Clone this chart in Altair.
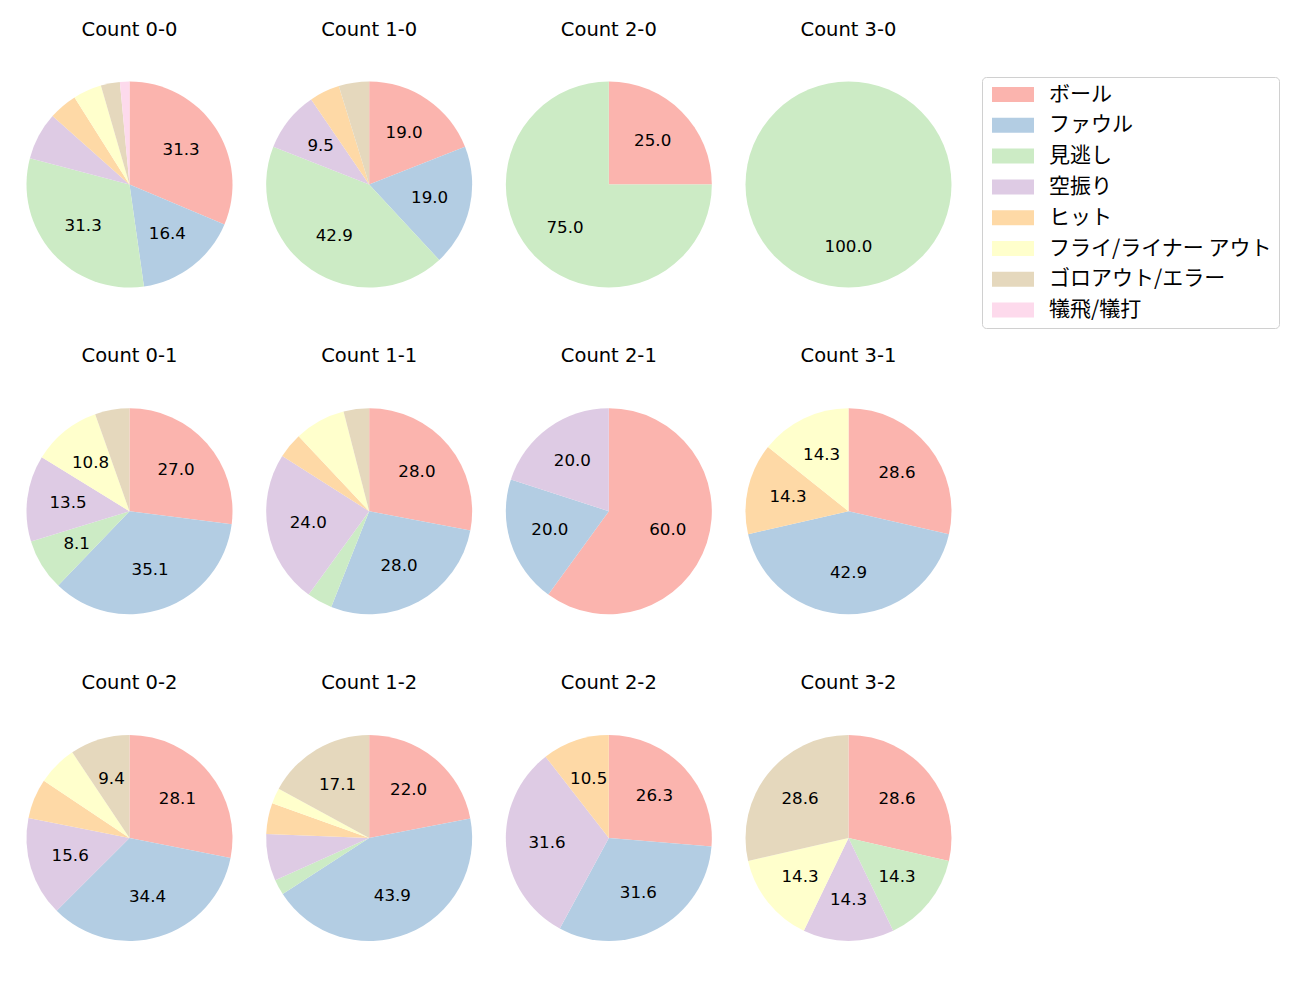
import altair as alt
import pandas as pd

categories = ["ボール", "ファウル", "見逃し", "空振り", "ヒット",
              "フライ/ライナー アウト", "ゴロアウト/エラー", "犠飛/犠打"]
colors = ["#fbb4ae", "#b3cde3", "#ccebc5", "#decbe4", "#fed9a6",
          "#ffffcc", "#e5d8bd", "#fddaec"]

counts = ["0-0", "1-0", "2-0", "3-0",
          "0-1", "1-1", "2-1", "3-1",
          "0-2", "1-2", "2-2", "3-2"]

# values per count, in category order
c_0_0 = [21, 11, 21, 5, 3, 3, 2, 1]
c_1_0 = [4, 4, 9, 2, 1, 0, 1, 0]
c_2_0 = [1, 0, 3, 0, 0, 0, 0, 0]
c_3_0 = [0, 0, 1, 0, 0, 0, 0, 0]
c_0_1 = [10, 13, 3, 5, 0, 4, 2, 0]
c_1_1 = [7, 7, 1, 6, 1, 2, 1, 0]
c_2_1 = [3, 1, 0, 1, 0, 0, 0, 0]
c_3_1 = [2, 3, 0, 0, 1, 1, 0, 0]
c_0_2 = [9, 11, 0, 5, 2, 2, 3, 0]
c_1_2 = [9, 18, 1, 3, 2, 1, 7, 0]
c_2_2 = [5, 6, 0, 6, 2, 0, 0, 0]
c_3_2 = [2, 0, 1, 1, 0, 1, 2, 0]

values = [c_0_0, c_1_0, c_2_0, c_3_0,
          c_0_1, c_1_1, c_2_1, c_3_1,
          c_0_2, c_1_2, c_2_2, c_3_2]

rows = []
for cnt, vals in zip(counts, values):
    b, s = cnt.split("-")
    for i, (cat, v) in enumerate(zip(categories, vals)):
        rows.append({"count": cnt, "balls": int(b), "strikes": int(s),
                     "cat": cat, "order": i, "value": v})
df = pd.DataFrame(rows)

titles = pd.DataFrame({
    "count": counts,
    "balls": [int(c.split("-")[0]) for c in counts],
    "strikes": [int(c.split("-")[1]) for c in counts],
    "label": ["Count " + c for c in counts],
})

LATIN = "DejaVu Sans"
JP = "Noto Sans CJK JP"

xenc = alt.X("balls:Q", scale=alt.Scale(domain=[0, 3], range=[121.5, 840.5]), axis=None)
yenc = alt.Y("strikes:Q", scale=alt.Scale(domain=[0, 2], range=[176.5, 830]), axis=None)
tscale = alt.Scale(domain=[0, 1], range=[0, 6.283185307179586])

base = (
    alt.Chart(df)
    .transform_filter("datum.value > 0")
    .transform_joinaggregate(total="sum(value)", groupby=["count"])
    .transform_window(cum="sum(value)", sort=[alt.SortField("order")], groupby=["count"])
    .transform_calculate(
        start="(datum.cum - datum.value) / datum.total",
        end="datum.cum / datum.total",
        mid="(datum.cum - datum.value / 2) / datum.total",
        pct="100 * datum.value / datum.total",
    )
)

arcs = base.mark_arc(radius=103).encode(
    x=xenc,
    y=yenc,
    theta=alt.Theta("start:Q", scale=tscale, stack=False),
    theta2="end:Q",
    color=alt.Color(
        "cat:N",
        scale=alt.Scale(domain=categories, range=colors),
        legend=alt.Legend(
            title=None,
            orient="none",
            legendX=974,
            legendY=69,
            symbolType="M-1,-1H4.6V1H-1Z",
            symbolSize=225,
            symbolStrokeWidth=0,
            symbolOpacity=1,
            labelFont=JP,
            labelFontSize=21,
            labelColor="#000000",
            labelOffset=39,
            rowPadding=8.8,
            padding=7,
            strokeColor="#d0d0d0",
            fillColor="#ffffff",
            cornerRadius=4,
            labelLimit=400,
        ),
    ),
)

labels = base.transform_filter("datum.pct > 8.05").mark_text(
    radius=62, font=LATIN, fontSize=16.7, color="#000000", baseline="middle", align="center"
).encode(
    x=xenc,
    y=yenc,
    theta=alt.Theta("mid:Q", scale=tscale, stack=False),
    text=alt.Text("pct:Q", format=".1f"),
)

title_layer = alt.Chart(titles).mark_text(
    font=LATIN, fontSize=19.5, color="#000000", dy=-155, baseline="middle", align="center"
).encode(
    x=xenc,
    y=yenc,
    text="label:N",
)

chart = alt.layer(arcs, labels, title_layer).properties(
    width=1284,
    height=984,
    autosize=alt.AutoSizeParams(type="none"),
    padding=0,
).configure_view(strokeWidth=0)

chart.save("out.html", embed_options={"renderer": "svg", "actions": False})
